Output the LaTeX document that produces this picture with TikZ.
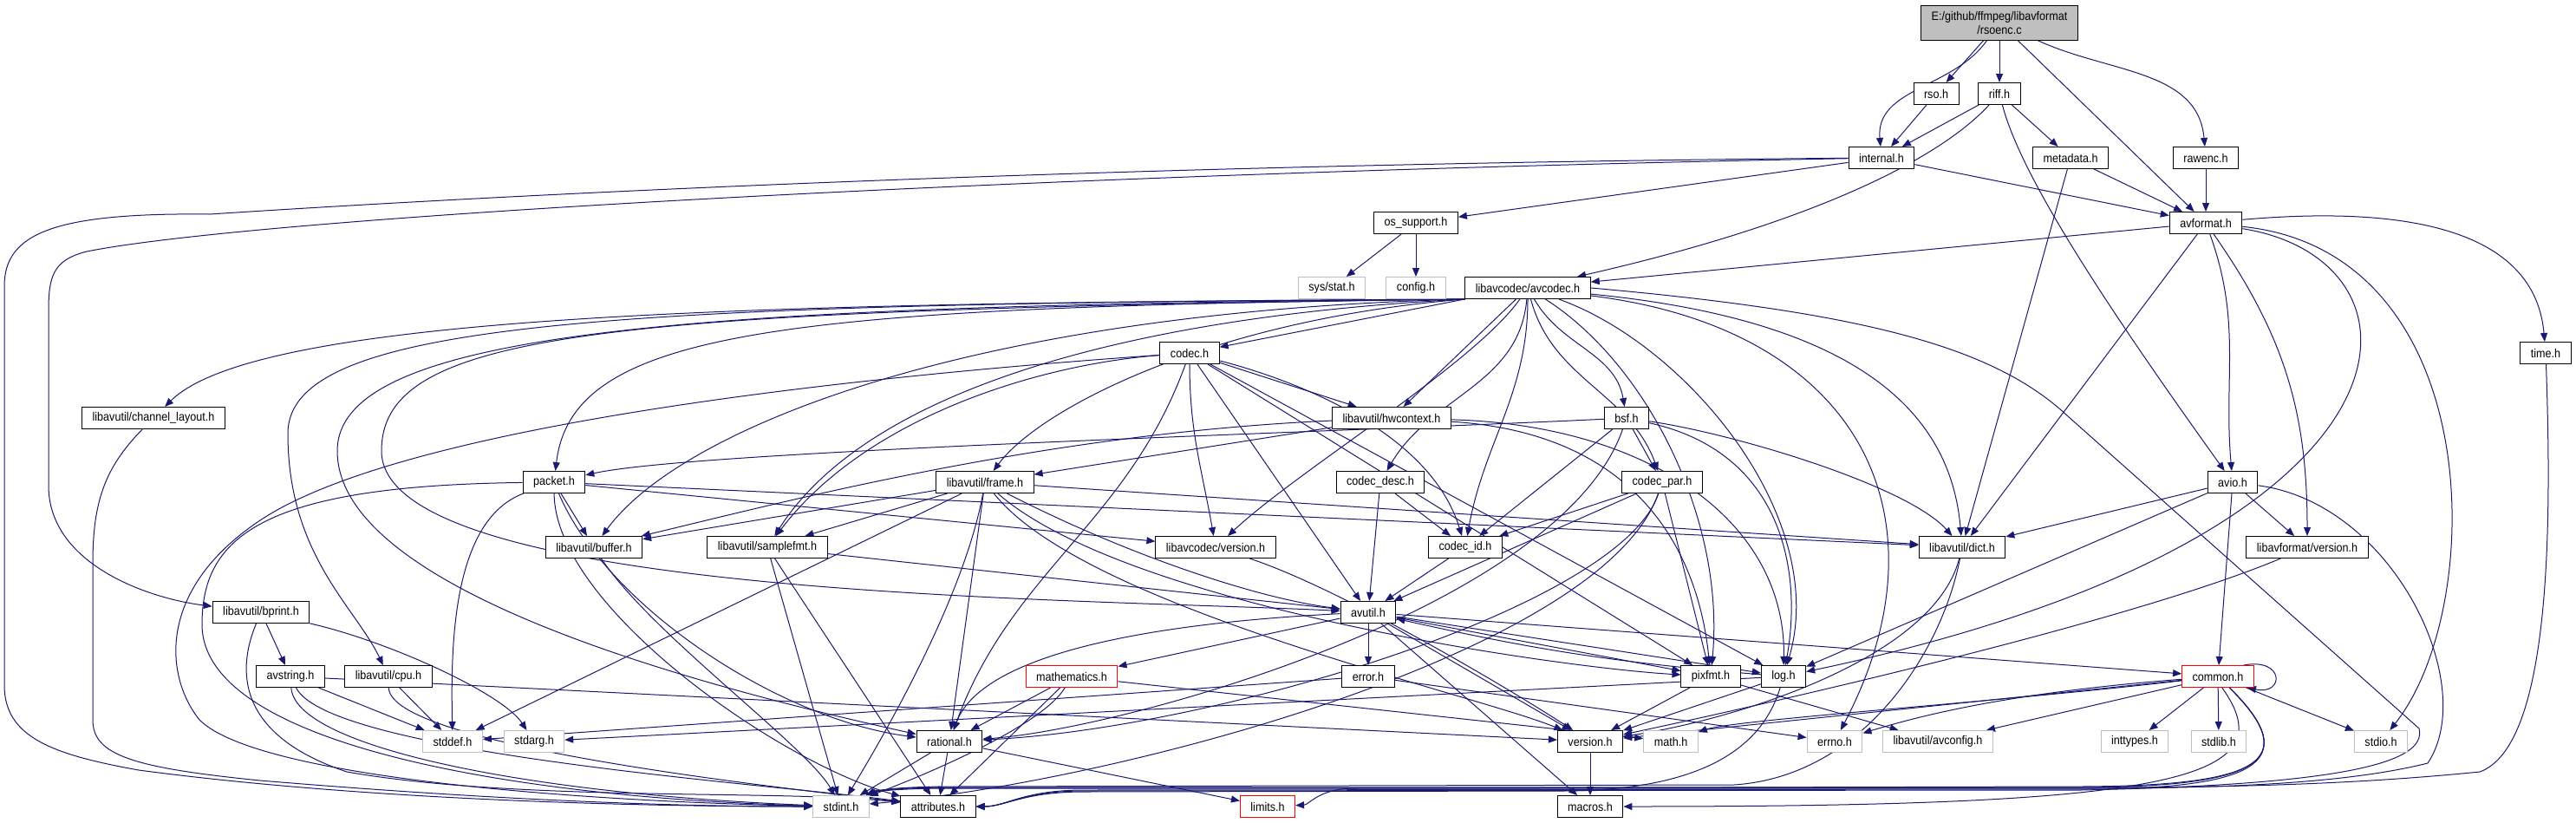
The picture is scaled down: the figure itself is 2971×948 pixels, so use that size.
\documentclass[tikz,border=0pt]{standalone}
\usepackage{fontspec}
\setmainfont{Liberation Sans}[FakeStretch=0.9]
\usetikzlibrary{arrows.meta}
\definecolor{edgeblue}{HTML}{191970}
\definecolor{sysgray}{HTML}{BFBFBF}
\pgfdeclarelayer{background}
\pgfsetlayers{background,main}

\begin{document}
\begin{tikzpicture}[x=1pt,y=-1pt,
		hdr/.style={draw=black,line width=1pt,fill=white,minimum height=25pt,inner xsep=12pt,inner ysep=0pt,font=\fontsize{14}{16}\selectfont},
		sys/.style={hdr,draw=sysgray},
		cut/.style={hdr,draw=red},
		dep/.style={edgeblue,line width=1pt,-{Triangle[length=10pt,width=8pt]}}]
	\useasboundingbox (0,0) rectangle (2971,948);
	\node[hdr,fill=sysgray,minimum height=40pt,align=center] (root) at (2306,26) {E:/github/ffmpeg/libavformat\\/rsoenc.c};
	\node[hdr] (rso) at (2233,108) {rso.h};
	\node[hdr] (riff) at (2306,108) {riff.h};
	\node[hdr] (internal) at (2170,182) {internal.h};
	\node[hdr] (metadata) at (2388,182) {metadata.h};
	\node[hdr] (rawenc) at (2544,182) {rawenc.h};
	\node[hdr] (avformat) at (2544,257) {avformat.h};
	\node[hdr] (ossupport) at (1633,257) {os\_support.h};
	\node[sys] (sysstat) at (1536,332) {sys/stat.h};
	\node[sys] (config) at (1633,332) {config.h};
	\node[hdr] (avcodec) at (1762,332) {libavcodec/avcodec.h};
	\node[hdr] (timeh) at (2936,407) {time.h};
	\node[hdr] (codec) at (1372,407) {codec.h};
	\node[hdr] (chlayout) at (177,482) {libavutil/channel\_layout.h};
	\node[hdr] (hwctx) at (1605,482) {libavutil/hwcontext.h};
	\node[hdr] (bsf) at (1876,482) {bsf.h};
	\node[hdr] (packet) at (639,556) {packet.h};
	\node[hdr] (frame) at (1136,556) {libavutil/frame.h};
	\node[hdr] (codecdesc) at (1592,556) {codec\_desc.h};
	\node[hdr] (codecpar) at (1917,556) {codec\_par.h};
	\node[hdr] (avio) at (2575,556) {avio.h};
	\node[hdr] (buffer) at (685,631) {libavutil/buffer.h};
	\node[hdr] (samplefmt) at (885,631) {libavutil/samplefmt.h};
	\node[hdr] (lavcversion) at (1402,631) {libavcodec/version.h};
	\node[hdr] (codecid) at (1690,631) {codec\_id.h};
	\node[hdr] (dict) at (2263,631) {libavutil/dict.h};
	\node[hdr] (lavfversion) at (2661,631) {libavformat/version.h};
	\node[hdr] (bprint) at (301,706) {libavutil/bprint.h};
	\node[hdr] (avutil) at (1578,706) {avutil.h};
	\node[hdr] (avstring) at (335,780) {avstring.h};
	\node[hdr] (cpu) at (448,780) {libavutil/cpu.h};
	\node[cut] (mathematics) at (1236,780) {mathematics.h};
	\node[hdr] (error) at (1578,780) {error.h};
	\node[hdr] (pixfmt) at (1973,780) {pixfmt.h};
	\node[hdr] (log) at (2057,780) {log.h};
	\node[cut] (common) at (2558,780) {common.h};
	\node[sys] (stddef) at (522,855) {stddef.h};
	\node[sys] (stdarg) at (616,855) {stdarg.h};
	\node[hdr] (rational) at (1095,855) {rational.h};
	\node[hdr] (version) at (1834,855) {version.h};
	\node[sys] (math) at (1927,855) {math.h};
	\node[sys] (errno) at (2116,855) {errno.h};
	\node[sys] (avconfig) at (2235,855) {libavutil/avconfig.h};
	\node[sys] (inttypes) at (2462,855) {inttypes.h};
	\node[sys] (stdlib) at (2559,855) {stdlib.h};
	\node[sys] (stdio) at (2746,855) {stdio.h};
	\node[sys] (stdint) at (970,930) {stdint.h};
	\node[hdr] (attributes) at (1082,930) {attributes.h};
	\node[cut] (limits) at (1462,930) {limits.h};
	\node[hdr] (macros) at (1834,930) {macros.h};

	\begin{pgfonlayer}{background}
	\draw[dep] (root) to[out=-125,in=95] (internal);
	\draw[dep] (root) -- (rso);
	\draw[dep] (root) -- (riff);
	\draw[dep] (root) -- (avformat);
	\draw[dep] (root) to[out=-25,in=95] (rawenc);
	\draw[dep] (rso) -- (internal);
	\draw[dep] (riff) -- (internal);
	\draw[dep] (riff) .. controls (2240,180) and (2100,255) .. (avcodec);
	\draw[dep] (riff) -- (metadata);
	\draw[dep] (riff) .. controls (2330,200) and (2420,340) .. (avio);
	\draw[dep] (metadata) -- (avformat);
	\draw[dep] (metadata) -- (dict);
	\draw[dep] (rawenc) -- (avformat);
	\draw[dep] (internal) -- (avformat);
	\draw[dep] (internal) -- (ossupport);
	\draw[dep] (internal) .. controls (1200,190) and (500,230) .. (242,247) .. controls (60,245) and (5,270) .. (5,330) -- (5,790) .. controls (5,850) and (60,870) .. (160,888) .. controls (400,920) and (700,930) .. (stdint);
	\draw[dep] (internal) .. controls (1200,200) and (300,250) .. (100,290) .. controls (60,300) and (56,320) .. (56,360) -- (56,560) .. controls (56,650) and (170,690) .. (bprint);
	\draw[dep] (ossupport) -- (sysstat);
	\draw[dep] (ossupport) -- (config);
	\draw[dep] (avformat) -- (avcodec);
	\draw[dep] (avformat) -- (dict);
	\draw[dep] (avformat) to[out=-70,in=95] (avio);
	\draw[dep] (avformat) to[out=-55,in=90] (lavfversion);
	\draw[dep] (avformat) .. controls (2817,300) and (2817,620) .. (log);
	\draw[dep] (avformat) .. controls (2869,290) and (2869,700) .. (stdio);
	\draw[dep] (avformat) to[out=5,in=95] (timeh);
	\draw[dep] (timeh) .. controls (2943,600) and (2943,860) .. (2860,890) .. controls (2700,906) and (2550,908) .. (2400,908) -- (1100,908) .. controls (1030,908) and (1010,912) .. (stdint);

	\draw[dep] (avcodec) .. controls (2150,380) and (2250,600) .. (errno);
	\draw[dep] (avcodec.south west) .. controls (1300,365) and (1000,450) .. (samplefmt);
	\draw[dep] (avcodec.east) .. controls (2150,360) and (2300,400) .. (2385,480) -- (2790,840) .. controls (2800,880) and (2700,905) .. (2400,911) -- (1250,912) .. controls (1180,912) and (1160,930) .. (attributes);
	\draw[dep] (avcodec.south west) .. controls (700,358) and (440,380) .. (440,520) .. controls (440,690) and (1250,690) .. (avutil);
	\draw[dep] (avcodec.south west) .. controls (1100,360) and (780,500) .. (buffer);
	\draw[dep] (avcodec.south west) .. controls (700,350) and (332,370) .. (332,500) .. controls (332,640) and (410,700) .. (cpu);
	\draw[dep] (avcodec.south west) .. controls (900,349) and (300,360) .. (chlayout);
	\draw[dep] (avcodec) .. controls (2150,370) and (2250,480) .. (dict);
	\draw[dep] (avcodec.south west) .. controls (1400,368) and (1200,470) .. (frame);
	\draw[dep] (avcodec) -- (hwctx);
	\draw[dep] (avcodec) .. controls (1950,400) and (2110,600) .. (log);
	\draw[dep] (avcodec) .. controls (1900,420) and (1990,600) .. (pixfmt);
	\draw[dep] (avcodec.south west) .. controls (800,352) and (389,380) .. (389,520) .. controls (389,680) and (800,790) .. (rational);
	\draw[dep] (avcodec) to[out=-60,in=100] (bsf);
	\draw[dep] (avcodec.south west) -- (codec);
	\draw[dep] (avcodec) to[out=-95,in=60] (codecdesc);
	\draw[dep] (avcodec) to[out=-75,in=110] (codecpar);
	\draw[dep] (avcodec) to[out=-90,in=80] (codecid);
	\draw[dep] (avcodec.south west) .. controls (900,354) and (660,380) .. (packet);
	\draw[dep] (avcodec) .. controls (1700,420) and (1500,540) .. (lavcversion);

	\draw[dep] (codec) .. controls (900,440) and (450,500) .. (300,600) .. controls (180,680) and (190,780) .. (230,830) .. controls (300,900) and (700,925) .. (stdint);
	\draw[dep] (codec) -- (avutil);
	\draw[dep] (codec) -- (hwctx);
	\draw[dep] (codec) -- (log);
	\draw[dep] (codec) -- (pixfmt);
	\draw[dep] (codec) to[out=-110,in=70] (rational);
	\draw[dep] (codec) .. controls (1200,420) and (1000,480) .. (samplefmt);
	\draw[dep] (codec) .. controls (1500,440) and (1650,500) .. (codecid);
	\draw[dep] (codec) to[out=-90,in=100] (lavcversion);

	\draw[dep] (hwctx) .. controls (1200,500) and (900,580) .. (buffer);
	\draw[dep] (hwctx) -- (frame);
	\draw[dep] (hwctx) .. controls (1900,490) and (2060,600) .. (log);
	\draw[dep] (hwctx) .. controls (1900,500) and (1960,650) .. (pixfmt);

	\draw[dep] (bsf) .. controls (2000,500) and (2200,560) .. (dict);
	\draw[dep] (bsf) .. controls (2050,520) and (2080,650) .. (log);
	\draw[dep] (bsf) .. controls (1800,700) and (1300,840) .. (rational);
	\draw[dep] (bsf) -- (codecid);
	\draw[dep] (bsf) -- (codecpar);
	\draw[dep] (bsf) .. controls (1500,500) and (800,520) .. (packet);

	\draw[dep] (codecdesc) -- (avutil);
	\draw[dep] (codecdesc) -- (codecid);
	\draw[dep] (codecpar) .. controls (1850,750) and (1300,900) .. (stdint);
	\draw[dep] (codecpar) -- (avutil);
	\draw[dep] (codecpar) .. controls (1870,700) and (1400,840) .. (rational);
	\draw[dep] (codecpar) -- (pixfmt);
	\draw[dep] (codecpar) -- (codecid);
	\draw[dep] (codecid) -- (avutil);

	\draw[dep] (packet) .. controls (520,600) and (520,750) .. (stddef);
	\draw[dep] (packet) .. controls (300,560) and (233,620) .. (233,720) .. controls (233,860) and (600,920) .. (stdint);
	\draw[dep] (packet) .. controls (640,700) and (900,880) .. (attributes);
	\draw[dep] (packet) -- (buffer);
	\draw[dep] (packet) -- (dict);
	\draw[dep] (packet) .. controls (700,700) and (900,830) .. (rational);
	\draw[dep] (packet) -- (lavcversion);

	\draw[dep] (frame) -- (stddef);
	\draw[dep] (frame) .. controls (1110,700) and (1000,880) .. (stdint);
	\draw[dep] (frame) .. controls (1300,640) and (1450,690) .. (avutil);
	\draw[dep] (frame) -- (buffer);
	\draw[dep] (frame) -- (dict);
	\draw[dep] (frame) -- (rational);
	\draw[dep] (frame) -- (samplefmt);
	\draw[dep] (frame) .. controls (1300,700) and (1800,770) .. (pixfmt);
	\draw[dep] (frame) .. controls (1250,700) and (1700,800) .. (version);

	\draw[dep] (buffer) .. controls (750,730) and (930,860) .. (stdint);
	\draw[dep] (samplefmt) -- (stdint);
	\draw[dep] (samplefmt) -- (avutil);
	\draw[dep] (samplefmt) -- (attributes);
	\draw[dep] (lavcversion) .. controls (1550,680) and (1750,800) .. (version);
	\draw[dep] (dict) .. controls (2240,750) and (2150,895) .. (2000,905) -- (1100,907) .. controls (1030,907) and (1010,912) .. (stdint);
	\draw[dep] (dict) .. controls (2230,760) and (2000,830) .. (version);

	\draw[dep] (avio) .. controls (2760,580) and (2860,790) .. (2800,880) .. controls (2700,905) and (2550,909) .. (2400,909) -- (1100,909) .. controls (1030,909) and (1010,913) .. (stdint);
	\draw[dep] (avio) -- (common);
	\draw[dep] (avio) -- (dict);
	\draw[dep] (avio) -- (log);
	\draw[dep] (avio) -- (lavfversion);
	\draw[dep] (lavfversion) .. controls (2450,720) and (2000,820) .. (version);

	\draw[dep] (avutil) -- (common);
	\draw[dep] (avutil) -- (error);
	\draw[dep] (avutil) .. controls (1300,720) and (1130,760) .. (rational);
	\draw[dep] (avutil) -- (version);
	\draw[dep] (avutil) -- (macros);
	\draw[dep] (avutil) -- (mathematics);
	\draw[dep] (avutil) -- (log);
	\draw[dep] (avutil) -- (pixfmt);

	\draw[dep] (bprint) .. controls (450,740) and (580,800) .. (stdarg);
	\draw[dep] (bprint) .. controls (270,780) and (280,850) .. (400,890) .. controls (600,925) and (900,910) .. (attributes);
	\draw[dep] (bprint) -- (avstring);
	\draw[dep] (avstring) -- (stddef);
	\draw[dep] (avstring) .. controls (340,860) and (600,915) .. (stdint);
	\draw[dep] (avstring) .. controls (380,870) and (900,905) .. (attributes);
	\draw[dep] (avstring) -- (version);
	\draw[dep] (cpu) -- (stddef);
	\draw[dep] (cpu) .. controls (450,860) and (900,908) .. (attributes);
	\draw[dep] (chlayout) .. controls (120,540) and (107,580) .. (107,650) -- (107,830) .. controls (107,870) and (150,885) .. (300,900) .. controls (600,925) and (800,930) .. (stdint);

	\draw[dep] (mathematics) .. controls (1200,840) and (1050,900) .. (stdint);
	\draw[dep] (mathematics) -- (math);
	\draw[dep] (mathematics) -- (attributes);
	\draw[dep] (mathematics) -- (rational);
	\draw[dep] (error) -- (errno);
	\draw[dep] (error) -- (stddef);
	\draw[dep] (pixfmt) -- (avconfig);
	\draw[dep] (pixfmt) -- (version);
	\draw[dep] (log) -- (stdarg);
	\draw[dep] (log) .. controls (2030,870) and (1950,912) .. (1800,912) -- (1250,913) .. controls (1180,913) and (1160,930) .. (attributes);
	\draw[dep] (log) -- (version);
	\draw[dep] (log) to[bend left=4] (avutil);
	\draw[dep] (rational) -- (stdint);
	\draw[dep] (rational) -- (limits);
	\draw[dep] (rational) -- (attributes);
	\draw[dep] (version) -- (macros);

	\draw[dep] (common) .. controls (2300,800) and (2200,830) .. (errno);
	\draw[dep] (common) -- (inttypes);
	\draw[dep] (common) .. controls (2660,880) and (2600,906) .. (2400,907) -- (1560,909) .. controls (1520,910) and (1510,928) .. (limits);
	\draw[dep] (common) .. controls (2300,810) and (2000,830) .. (math);
	\draw[dep] (common) .. controls (2660,880) and (2600,907) .. (2400,908) -- (1100,908) .. controls (1030,908) and (1010,912) .. (stdint);
	\draw[dep] (common) -- (stdio);
	\draw[dep] (common) -- (stdlib);
	\draw[dep] (common) .. controls (2660,880) and (2600,910) .. (2400,910) -- (1250,911) .. controls (1180,911) and (1160,930) .. (attributes);
	\draw[dep] (common.-70) .. controls (2640,900) and (2500,930) .. (macros);
	\draw[dep] (common) -- (version);
	\draw[dep] (common) -- (avconfig);
	\draw[dep] ([xshift=-12pt]common.north east) .. controls (2635,758) and (2635,802) .. ([xshift=-8pt]common.south east);
	\end{pgfonlayer}
\end{tikzpicture}
\end{document}
